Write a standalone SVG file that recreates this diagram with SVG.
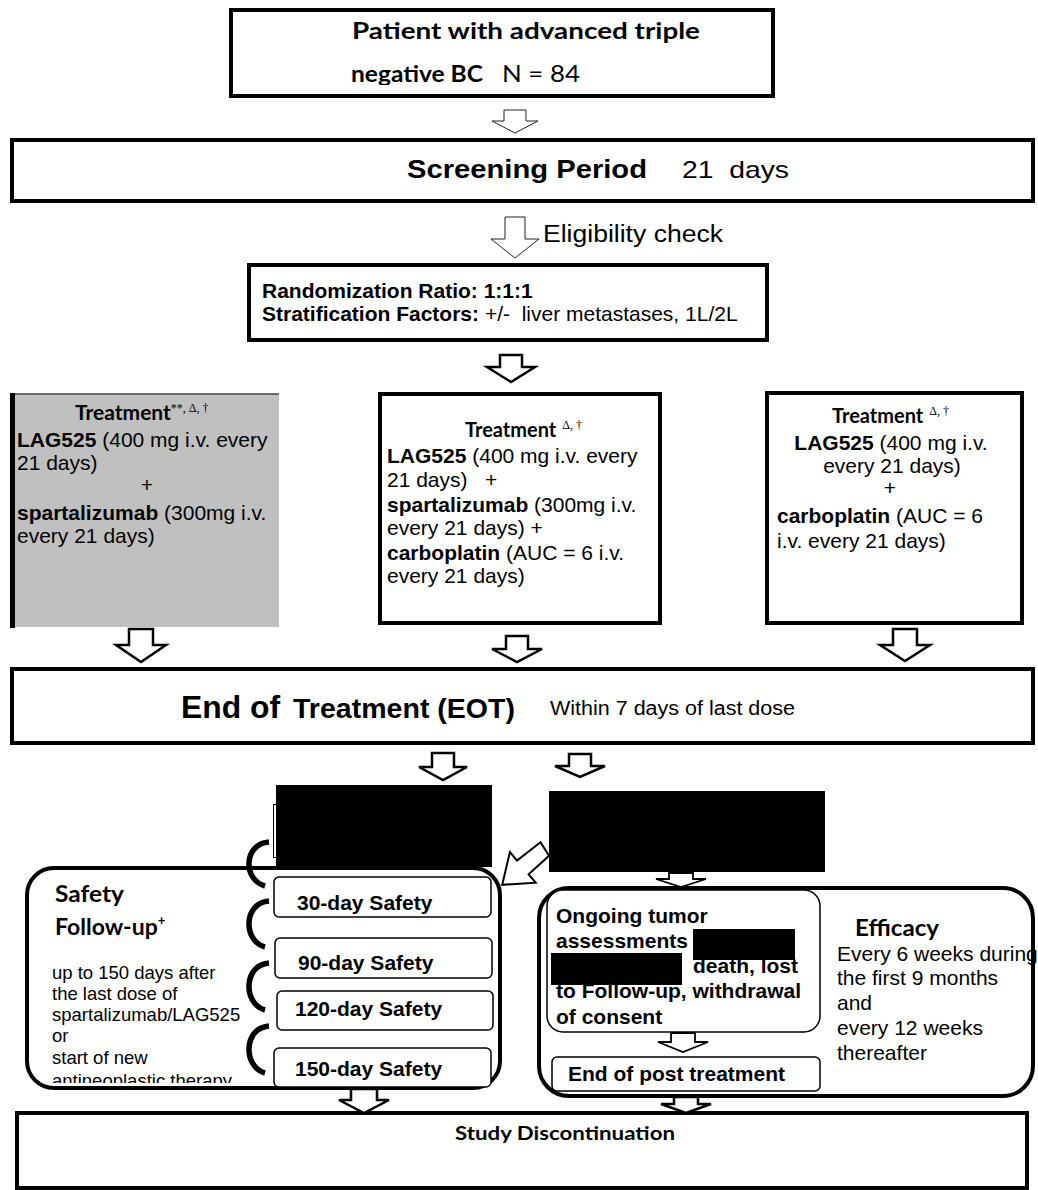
<svg xmlns="http://www.w3.org/2000/svg" width="1038" height="1190" viewBox="0 0 1038 1190">
<style>
.box{fill:#fff;stroke:#000;stroke-width:4}
.thin{fill:#fff;stroke:#000;stroke-width:1.5}
.arr{fill:#fff;stroke:#000;stroke-width:2.5;stroke-linejoin:miter}
.arrt{fill:#fff;stroke:#222;stroke-width:1}
.curve{fill:none;stroke:#000;stroke-width:5.5}
.blk{fill:#000;stroke:none}
text{font-family:"Liberation Sans",Arial,sans-serif;fill:#000}
.b{font-weight:bold}
.c{font-family:Lato,"Open Sans",sans-serif;font-weight:bold}
.cn{font-family:Lato,"Open Sans",sans-serif;font-weight:normal}
.t{font-family:"Liberation Serif","Times New Roman",serif;font-weight:normal;fill:#000}
</style>
<defs>
<clipPath id="clipTop"><rect x="231" y="10" width="542" height="75"/></clipPath>
<clipPath id="clipSafety"><rect x="27" y="868" width="473" height="215"/></clipPath>
</defs>
<rect width="1038" height="1190" fill="#fff"/>

<g id="node-patient">
<rect class="box" x="231" y="10" width="542" height="86"/>
<g clip-path="url(#clipTop)">
<text class="c" x="352" y="39" font-size="22" textLength="348" lengthAdjust="spacingAndGlyphs">Patient with advanced triple</text>
<text class="c" x="351" y="82" font-size="22" textLength="132" lengthAdjust="spacingAndGlyphs">negative BC</text>
<text class="cn" x="502" y="82" font-size="23" textLength="78" lengthAdjust="spacingAndGlyphs">N = 84</text>
</g>
</g>

<g id="node-screening">
<rect class="box" x="12" y="140" width="1021" height="61"/>
<text class="b" x="407" y="178" font-size="26" textLength="240" lengthAdjust="spacingAndGlyphs">Screening Period</text>
<text x="682" y="178" font-size="24" textLength="107" lengthAdjust="spacingAndGlyphs" xml:space="preserve">21  days</text>
</g>

<g id="label-eligibility">
<text x="543" y="242" font-size="23" textLength="180" lengthAdjust="spacingAndGlyphs">Eligibility check</text>
</g>

<g id="node-randomization">
<rect class="box" x="249" y="265" width="518" height="75"/>
<text class="b" x="262" y="298" font-size="21">Randomization Ratio: 1:1:1</text>
<text x="262" y="321" font-size="21" xml:space="preserve"><tspan class="b">Stratification Factors:</tspan> +/-  liver metastases, 1L/2L</text>
</g>

<g id="node-arm1">
<rect x="12" y="394" width="267" height="233" fill="#c0c0c0"/>
<line x1="12" y1="394" x2="279" y2="394" stroke="#444" stroke-width="1.5"/>
<line x1="12.5" y1="393" x2="12.5" y2="628" stroke="#000" stroke-width="5"/>
<text x="75" y="420"><tspan class="c" font-size="21">Treatment</tspan><tspan class="t" font-size="12" dy="-8">**, Δ, †</tspan></text>
<text x="17" y="447" font-size="21"><tspan class="b">LAG525</tspan> (400 mg i.v. every</text>
<text x="17" y="470" font-size="21">21 days)</text>
<text x="147" y="492" font-size="21" text-anchor="middle">+</text>
<text x="17" y="520" font-size="21"><tspan class="b">spartalizumab</tspan> (300mg i.v.</text>
<text x="17" y="543" font-size="21">every 21 days)</text>
</g>

<g id="node-arm2">
<rect class="box" x="380" y="394" width="280" height="229"/>
<text x="465" y="437"><tspan class="c" font-size="20">Treatment</tspan><tspan class="t" font-size="12" dx="6" dy="-8">Δ, †</tspan></text>
<text x="387" y="463" font-size="21"><tspan class="b">LAG525</tspan> (400 mg i.v. every</text>
<text x="387" y="487" font-size="21" xml:space="preserve">21 days)   +</text>
<text x="387" y="512" font-size="21"><tspan class="b">spartalizumab</tspan> (300mg i.v.</text>
<text x="387" y="535" font-size="21">every 21 days) +</text>
<text x="387" y="560" font-size="21"><tspan class="b">carboplatin</tspan> (AUC = 6 i.v.</text>
<text x="387" y="583" font-size="21">every 21 days)</text>
</g>

<g id="node-arm3">
<rect class="box" x="767" y="393" width="255" height="230"/>
<text x="832" y="423"><tspan class="c" font-size="20">Treatment</tspan><tspan class="t" font-size="12" dx="6" dy="-8">Δ, †</tspan></text>
<text x="891" y="450" font-size="21" text-anchor="middle"><tspan class="b">LAG525</tspan> (400 mg i.v.</text>
<text x="892" y="473" font-size="21" text-anchor="middle">every 21 days)</text>
<text x="890" y="495" font-size="21" text-anchor="middle">+</text>
<text x="777" y="523" font-size="21"><tspan class="b">carboplatin</tspan> (AUC = 6</text>
<text x="777" y="548" font-size="21">i.v. every 21 days)</text>
</g>

<g id="node-eot">
<rect class="box" x="12" y="669" width="1021" height="74"/>
<text class="b" x="181" y="718" font-size="32" textLength="99" lengthAdjust="spacingAndGlyphs">End of</text>
<text class="b" x="293" y="718" font-size="27" textLength="222" lengthAdjust="spacingAndGlyphs">Treatment (EOT)</text>
<text x="550" y="715" font-size="20" textLength="245" lengthAdjust="spacingAndGlyphs">Within 7 days of last dose</text>
</g>

<g id="node-redacted-left">
<rect x="273.5" y="804.5" width="218" height="53" fill="#fff" stroke="#000" stroke-width="1"/>
<rect class="blk" x="276" y="785" width="216" height="82"/>
</g>

<g id="node-redacted-right">
<rect class="blk" x="549" y="791" width="276" height="81"/>
</g>

<g id="node-safety">
<rect class="box" x="27" y="868" width="473" height="220" rx="27" ry="27"/>
<text class="c" x="55" y="902" font-size="23" textLength="69" lengthAdjust="spacingAndGlyphs">Safety</text>
<text x="55" y="935"><tspan class="c" font-size="23">Follow-up</tspan><tspan class="c" font-size="13" dy="-10">+</tspan></text>
<g clip-path="url(#clipSafety)" font-size="18.5">
<text x="52" y="979">up to 150 days after</text>
<text x="52" y="1000">the last dose of</text>
<text x="52" y="1021">spartalizumab/LAG525</text>
<text x="52" y="1042">or</text>
<text x="52" y="1064">start of new</text>
<text x="52" y="1087">antineoplastic therapy</text>
</g>
</g>

<g id="node-safety-30">
<rect class="thin" x="274" y="877" width="217" height="40" rx="5"/>
<text class="b" x="297" y="910" font-size="21">30-day Safety</text>
</g>
<g id="node-safety-90">
<rect class="thin" x="275" y="938" width="217" height="40" rx="5"/>
<text class="b" x="298" y="970" font-size="21">90-day Safety</text>
</g>
<g id="node-safety-120">
<rect class="thin" x="277" y="991" width="216" height="39" rx="5"/>
<text class="b" x="295" y="1016" font-size="21">120-day Safety</text>
</g>
<g id="node-safety-150">
<rect class="thin" x="274" y="1048" width="217" height="39" rx="5"/>
<text class="b" x="295" y="1076" font-size="21">150-day Safety</text>
</g>

<g id="node-efficacy">
<rect class="box" x="539" y="888" width="494" height="208" rx="30" ry="30"/>
<text class="c" x="855" y="936" font-size="23" textLength="84" lengthAdjust="spacingAndGlyphs">Efficacy</text>
<text x="837" y="961" font-size="21">Every 6 weeks during</text>
<text x="837" y="985" font-size="21">the first 9 months</text>
<text x="837" y="1010" font-size="21">and</text>
<text x="837" y="1035" font-size="21">every 12 weeks</text>
<text x="837" y="1060" font-size="21">thereafter</text>
</g>

<g id="node-ongoing">
<rect class="thin" x="547" y="890" width="273" height="142" rx="16" ry="16"/>
<text class="b" x="556" y="923" font-size="21">Ongoing tumor</text>
<text class="b" x="556" y="948" font-size="21">assessments</text>
<text class="b" x="693" y="973" font-size="21">death, lost</text>
<text class="b" x="556" y="998" font-size="21">to Follow-up, withdrawal</text>
<text class="b" x="556" y="1024" font-size="21">of consent</text>
<rect class="blk" x="693" y="929" width="102" height="31"/>
<rect class="blk" x="551" y="953" width="131" height="32"/>
</g>

<g id="node-end-post">
<rect class="thin" x="552" y="1057" width="268" height="34" rx="5"/>
<text class="b" x="568" y="1081" font-size="21">End of post treatment</text>
</g>

<g id="node-study-discontinuation">
<rect class="box" x="17" y="1113" width="1010" height="75"/>
<text class="c" x="455" y="1140" font-size="18" textLength="220" lengthAdjust="spacingAndGlyphs">Study Discontinuation</text>
</g>

<g id="connectors">
<path class="arrt" d="M504,110 H526 V121 H538 L515,133 L492,121 H504 Z"/>
<path class="arrt" d="M505,217 H525 V239 H539 L515,258 L491,239 H505 Z"/>
<path class="arr" d="M500,355 H522 V367 H535 L511,382 L487,367 H500 Z"/>
<path class="arr" d="M129,629 H153 V645 H166 L141,662 L116,645 H129 Z"/>
<path class="arr" d="M506,636 H528 V649 H542 L517,662 L492,649 H506 Z"/>
<path class="arr" d="M893,629 H917 V645 H930 L905,661 L880,645 H893 Z"/>
<path class="arr" d="M432,753 H454 V767 H467 L443,780 L419,767 H432 Z"/>
<path class="arr" d="M569,754 H591 V766 H605 L580,777 L555,766 H569 Z"/>
<path class="arr" style="stroke-width:1.8" d="M669,873 H693 V879 H706 L681,887 L656,879 H669 Z"/>
<path class="arr" style="stroke-width:1.8" d="M671,1033 H695 V1042 H708 L683,1052 L658,1042 H671 Z"/>
<path class="arr" d="M351,1089 H377 V1100 H389 L364,1113 L339,1100 H351 Z"/>
<path class="arr" d="M674,1097 H698 V1104 H711 L686,1113 L661,1104 H674 Z"/>
<path class="arr" style="stroke-width:2" d="M540.5,842.3 L517.0,860.5 L509.9,852.1 L502.2,884.8 L535.7,882.7 L528.6,874.3 L549,855.8 Z"/>
<path class="curve" d="M269,842 C243,844 243,880 265,886"/>
<path class="curve" d="M269,901 C243,903 243,941 265,947"/>
<path class="curve" d="M269,963 C243,965 243,1004 265,1010"/>
<path class="curve" d="M269,1026 C243,1028 243,1067 265,1073"/>
</g>
</svg>
